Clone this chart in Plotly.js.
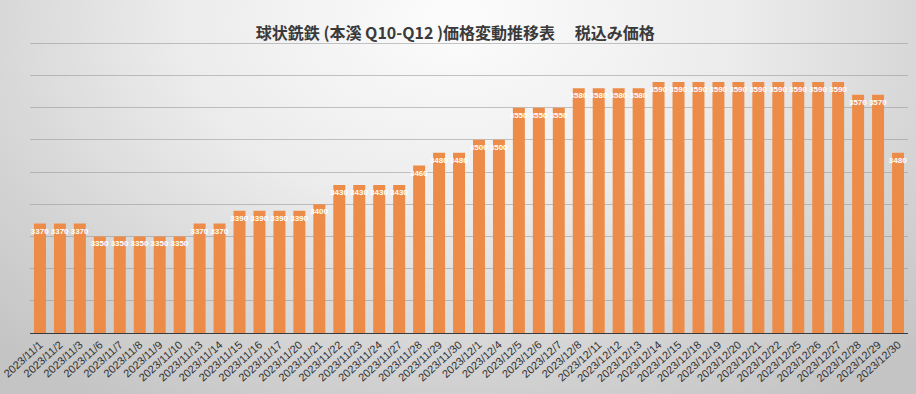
<!DOCTYPE html>
<html>
<head>
<meta charset="utf-8">
<script src="https://cdn.plot.ly/plotly-3.0.1.min.js"></script>
<style>
  html, body { margin: 0; padding: 0; }
  #chart {
    width: 916px; height: 394px;
    background: radial-gradient(ellipse 72% 115% at 50% 5%, #fcfcfc 0%, #ececec 42%, #d2d2d2 78%, #c4c4c4 100%);
  }
</style>
</head>
<body>
<div id="chart"></div>
<script>
const dates = [
  "2023/11/1","2023/11/2","2023/11/3","2023/11/6","2023/11/7","2023/11/8","2023/11/9","2023/11/10",
  "2023/11/13","2023/11/14","2023/11/15","2023/11/16","2023/11/17","2023/11/20","2023/11/21","2023/11/22",
  "2023/11/23","2023/11/24","2023/11/27","2023/11/28","2023/11/29","2023/11/30","2023/12/1","2023/12/4",
  "2023/12/5","2023/12/6","2023/12/7","2023/12/8","2023/12/11","2023/12/12","2023/12/13","2023/12/14",
  "2023/12/15","2023/12/18","2023/12/19","2023/12/20","2023/12/21","2023/12/22","2023/12/25","2023/12/26",
  "2023/12/27","2023/12/28","2023/12/29","2023/12/30"
];
const prices = [
  3370,3370,3370,3350,3350,3350,3350,3350,
  3370,3370,3390,3390,3390,3390,3400,3430,
  3430,3430,3430,3460,3480,3480,3500,3500,
  3550,3550,3550,3580,3580,3580,3580,3590,
  3590,3590,3590,3590,3590,3590,3590,3590,
  3590,3570,3570,3480
];
const chartTitle = "球状銑鉄 (本溪 Q10-Q12 )価格変動推移表\u3000 税込み価格";

const trace = {
  type: "bar",
  x: dates,
  y: prices,
  marker: { color: "#ED8B48" },
  text: prices.map(String),
  textposition: "inside",
  insidetextanchor: "end",
  textangle: 0,
  constraintext: "none",
  cliponaxis: false,
  textfont: { family: "Liberation Sans, Arial, sans-serif", size: 8, color: "#ffffff", weight: "bold" },
  hoverinfo: "x+y"
};

const layout = {
  width: 916, height: 394,
  paper_bgcolor: "rgba(0,0,0,0)",
  plot_bgcolor: "rgba(0,0,0,0)",
  margin: { l: 30, r: 8, t: 42, b: 61 },
  bargap: 0.4,
  showlegend: false,
  title: {
    text: chartTitle,
    x: 0.497, xanchor: "center",
    y: 0.915, yanchor: "middle",
    font: { family: "Noto Sans CJK JP, sans-serif", size: 16, color: "#3a3a3a", weight: "bold" }
  },
  xaxis: {
    type: "category",
    tickangle: -42,
    ticks: "",
    showline: true,
    linecolor: "#3a3a3a",
    linewidth: 1,
    showgrid: false,
    tickfont: { family: "Liberation Sans, Arial, sans-serif", size: 11, color: "#303030" }
  },
  yaxis: {
    range: [3200, 3652],
    dtick: 50,
    tick0: 3200,
    showticklabels: false,
    showgrid: true,
    gridcolor: "rgba(150,150,150,0.55)",
    gridwidth: 1,
    zeroline: false,
    ticks: ""
  }
};

Plotly.newPlot("chart", [trace], layout, { displayModeBar: false, staticPlot: true });
</script>
</body>
</html>
